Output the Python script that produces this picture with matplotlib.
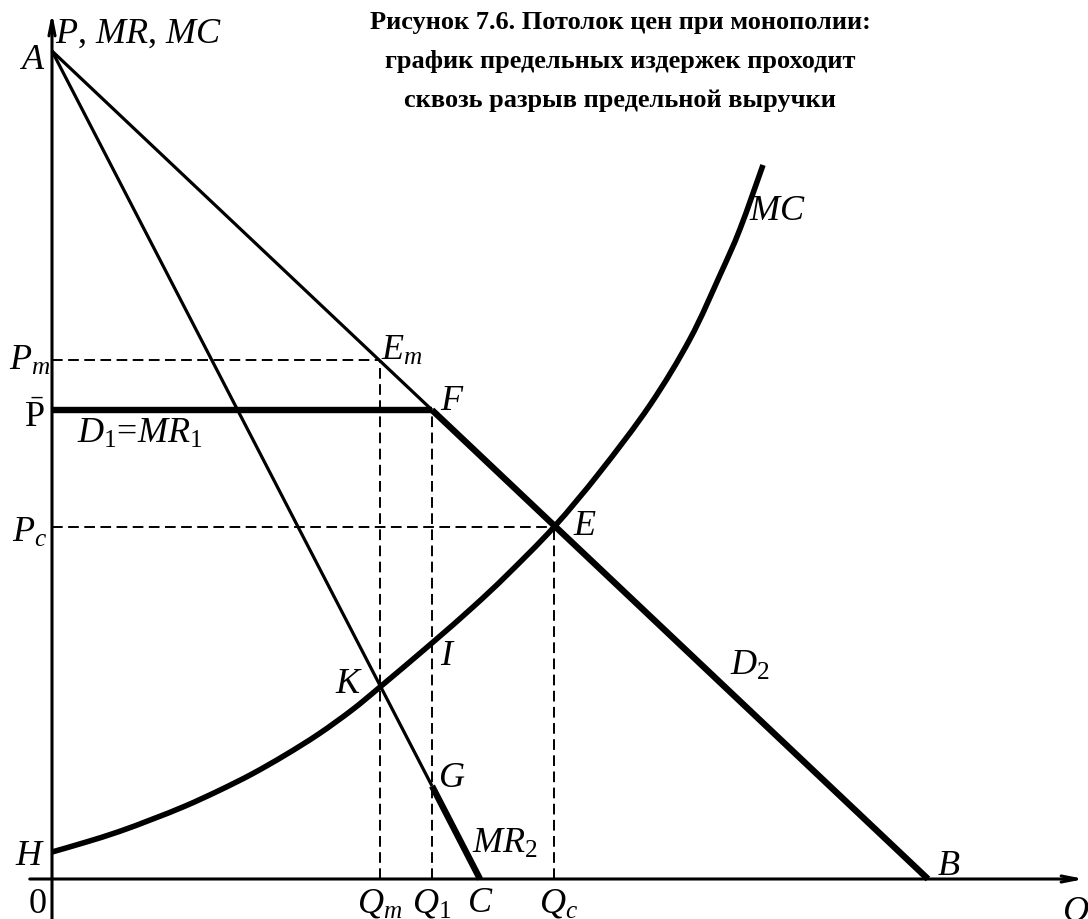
import matplotlib
matplotlib.use("Agg")
import matplotlib.pyplot as plt
from matplotlib.path import Path
from matplotlib.patches import PathPatch

plt.rcParams['font.family'] = ['Liberation Serif', 'DejaVu Serif']
plt.rcParams['mathtext.fontset'] = 'custom'
plt.rcParams['mathtext.rm'] = 'Liberation Serif'
plt.rcParams['mathtext.it'] = 'Liberation Serif:italic'
plt.rcParams['mathtext.bf'] = 'Liberation Serif:bold'

# data (arbitrary units)
p_a = 82.8          # demand / MR intercept on price axis
q_b = 87.6          # demand intercept on Q axis
q_c = 42.8          # MR intercept on Q axis
p_m, p_bar, p_c = 51.9, 46.9, 35.2
q_m, q_1, q_cc = 32.8, 38.0, 50.2
g_mr = 9.3          # MR at Q1

mc_q = [0, 3.33, 6.67, 10.0, 13.33, 16.67, 20.0, 23.33, 26.67, 30.0, 32.8, 38.0,
        42.1, 45.5, 50.2, 54.8, 59.8, 63.8, 66.8, 68.8, 71.1]
mc_p = [2.7, 3.67, 4.73, 5.97, 7.3, 8.83, 10.5, 12.4, 14.5, 16.9, 19.2, 23.6,
        27.2, 30.4, 35.2, 40.7, 47.4, 54.0, 60.4, 65.0, 71.4]

fig = plt.figure(figsize=(10.88, 9.19), dpi=100)
ax = fig.add_axes([0, 0, 1, 1])
ax.set_xlim(-5.2, 103.6)
ax.set_ylim(-4.0, 87.9)
ax.axis('off')

# axes with arrows
ax.annotate('', xy=(0, 86.9), xytext=(0, -4.5),
            arrowprops=dict(arrowstyle='->,head_length=1.1,head_width=0.22', lw=2.2, color='black'))
ax.annotate('', xy=(103.5, 0), xytext=(-2.5, 0),
            arrowprops=dict(arrowstyle='->,head_length=1.1,head_width=0.22', lw=2.2, color='black'))

dash = dict(color='black', lw=1.4, dashes=(5.5, 2.8))
ax.plot([0, q_m], [p_m, p_m], **dash)
ax.plot([q_m, q_m], [0, p_m], **dash)
ax.plot([q_1, q_1], [0, p_bar], **dash)
ax.plot([0, q_cc], [p_c, p_c], **dash)
ax.plot([q_cc, q_cc], [0, p_c], **dash)

# demand: thin part A-F, thick part F-B
ax.plot([0, q_1], [p_a, p_bar], color='black', lw=2.3, solid_capstyle='butt')
ax.plot([q_1, q_b], [p_bar, 0], color='black', lw=4.6, solid_capstyle='butt')
# price ceiling D1 = MR1
ax.plot([0, q_1], [p_bar, p_bar], color='black', lw=4.6, solid_capstyle='butt')
# MR: thin part A-G, thick G-C
ax.plot([0, q_1], [p_a, g_mr], color='black', lw=2.3, solid_capstyle='butt')
ax.plot([q_1, q_c], [g_mr, 0], color='black', lw=4.6, solid_capstyle='butt')

# MC drawn as a smooth bezier path through the read points
pts = list(zip(mc_q, mc_p))
verts = [pts[0]]
codes = [Path.MOVETO]
for i in range(len(pts) - 1):
    p0 = pts[i - 1] if i > 0 else pts[i]
    p1, p2 = pts[i], pts[i + 1]
    p3 = pts[i + 2] if i + 2 < len(pts) else pts[i + 1]
    c1 = (p1[0] + (p2[0] - p0[0]) / 6, p1[1] + (p2[1] - p0[1]) / 6)
    c2 = (p2[0] - (p3[0] - p1[0]) / 6, p2[1] - (p3[1] - p1[1]) / 6)
    verts += [c1, c2, p2]
    codes += [Path.CURVE4] * 3
ax.add_patch(PathPatch(Path(verts, codes), fill=False, lw=4.0, edgecolor='black', capstyle='butt'))

fs = 26
def lab(x, y, s, ha='left'):
    ax.text(x, y, s, fontsize=fs, ha=ha, va='baseline')

lab(-0.6, 81.0, r'$A$', 'right')
lab(0.3, 83.6, r'$P$, $MR$, $MC$')
lab(-0.2, 50.9, r'$P_m$', 'right')
lab(-0.7, 45.2, r'$\bar{\mathrm{P}}$', 'right')
lab(2.5, 43.6, r'$D_1$=$MR_1$')
lab(32.9, 51.9, r'$E_m$')
lab(38.8, 46.9, r'$F$')
lab(52.1, 34.4, r'$E$')
lab(38.8, 21.4, r'$I$')
lab(31.1, 18.6, r'$K$', 'right')
lab(38.6, 9.2, r'$G$')
lab(42.0, 2.6, r'$MR_2$')
lab(q_m, -3.3, r'$Q_m$', 'center')
lab(q_1, -3.3, r'$Q_1$', 'center')
lab(q_c, -3.3, r'$C$', 'center')
lab(q_cc + 0.5, -3.3, r'$Q_c$', 'center')
lab(88.5, 0.4, r'$B$')
lab(101.0, -4.1, r'$Q$')
lab(-0.5, -3.4, '0', 'right')
lab(-0.7, 1.4, r'$H$', 'right')
lab(-0.5, 33.7, r'$P_c$', 'right')
lab(67.8, 20.4, r'$D_2$')
lab(69.7, 65.9, r'$MC$')

ax.text(56.8, 86.8, 'Рисунок 7.6. Потолок цен при монополии:\n'
        'график предельных издержек проходит\n'
        'сквозь разрыв предельной выручки',
        fontsize=19, fontweight='bold', ha='center', va='top', linespacing=1.9)

fig.savefig('out.png', dpi=100)
